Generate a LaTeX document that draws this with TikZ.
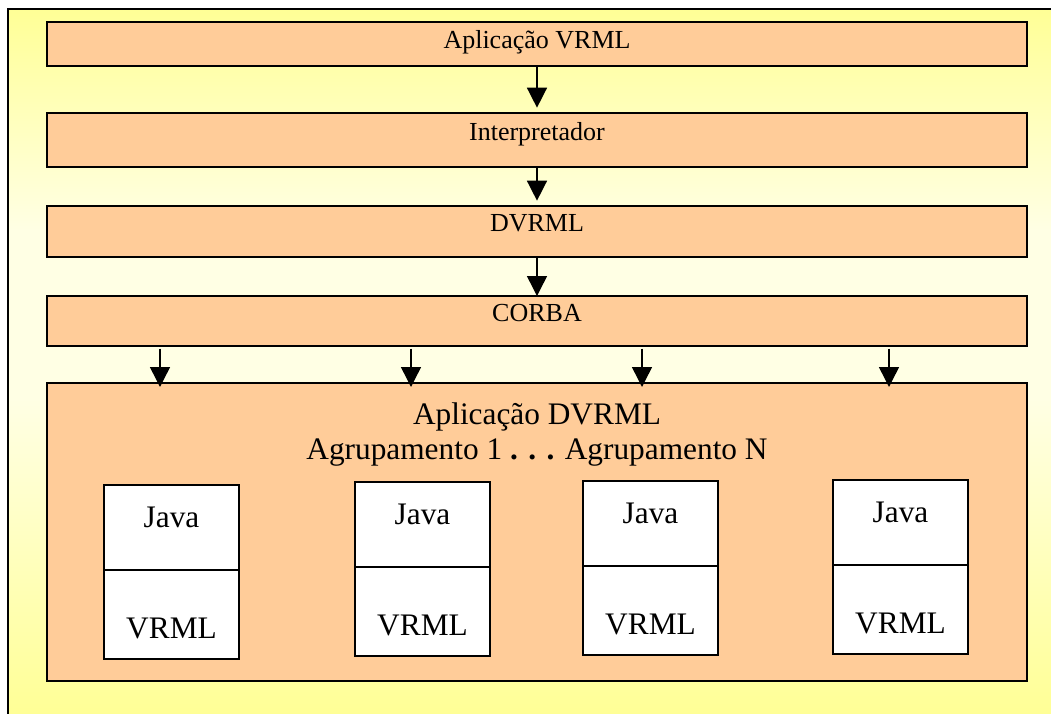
\documentclass[tikz,border=0pt]{standalone}
\usepackage{fontspec}
\setmainfont{Liberation Serif}
\usepackage{tikz}
\usetikzlibrary{arrows.meta,positioning}
\definecolor{layercol}{RGB}{255,204,153}
\definecolor{framecol}{RGB}{255,255,150}
\definecolor{palecol}{RGB}{255,255,228}
\newcommand{\layerfont}{\fontsize{19.5}{23}\selectfont}
\newcommand{\groupfont}{\fontsize{23.5}{26.5}\selectfont}
\tikzset{
  arrow/.style={-{Triangle[length=15pt,width=15pt]},line width=1.1pt},
  layer/.style={draw,line width=1.3pt,fill=layercol,minimum width=735pt,
    inner sep=0pt,outer sep=0pt,text height=12pt,text depth=12pt,font=\layerfont},
  javabox/.style={draw,line width=1pt,fill=white,minimum width=101.25pt,
    minimum height=63.75pt,inner sep=0pt,outer sep=0pt,text height=12pt,text depth=12pt,font=\groupfont},
  vrmlbox/.style={javabox,minimum height=66.75pt,text height=38pt,text depth=2.75pt}
}

\begin{document}
\begin{tikzpicture}[x=0.75pt,y=-0.75pt,node distance=29.25pt]
  \useasboundingbox (0,0) rectangle (1051,714);
  \shade[top color=framecol,bottom color=palecol] (8,9) rectangle (1051,230);
  \fill[palecol] (8,229) rectangle (1051,400);
  \shade[top color=palecol,bottom color=framecol] (8,399) rectangle (1051,714);
  \draw[line width=1.2pt] (8,714) -- (8,9) -- (1051,9);
  \node[layer,minimum height=33pt,text height=15pt,text depth=9pt] (vrmlapp) at (537,44) {Aplicação VRML};
  \node[layer,minimum height=40.5pt,below=35.25pt of vrmlapp] (interp) {Interpretador};
  \node[layer,minimum height=38.25pt,below=of interp] (dvrml) {DVRML};
  \node[layer,minimum height=37.5pt,below=of dvrml] (corba) {CORBA};
  \node[layer,minimum height=223.5pt,below=27.75pt of corba] (dvrmlapp) {};
  \node[font=\groupfont,align=center,inner sep=0pt,below=14.5pt of dvrmlapp.north] (grouptitle)
    {Aplicação DVRML\\Agrupamento 1 {\bfseries . . .} Agrupamento N};
  \foreach \i/\x/\y in {1/104/485,2/355/482,3/583/481,4/833/480}{
    \node[javabox,anchor=north west] (java\i) at (\x,\y) {Java};
    \node[vrmlbox,below=0pt of java\i] (vrml\i) {VRML};
  }
  \draw[arrow,shorten >=4pt] (vrmlapp) -- (interp);
  \draw[arrow,shorten >=4pt] (interp) -- (dvrml);
  \draw[arrow] (dvrml) -- (corba);
  \foreach \x in {160,411,642,889}
    \draw[arrow,shorten <=2pt,shorten >=-3pt] (corba.south -| \x,0) -- (dvrmlapp.north -| \x,0);
\end{tikzpicture}
\end{document}
